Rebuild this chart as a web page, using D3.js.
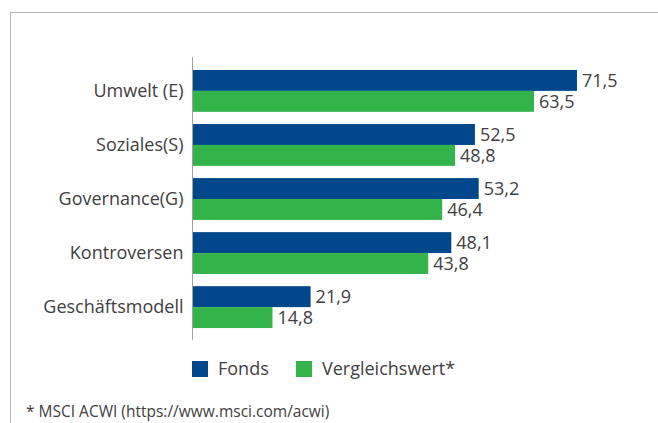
<!DOCTYPE html>
<html>

<head>
  <meta charset='utf-8'>
  <script type="text/javascript" src="https://cdn.jsdelivr.net/npm/d3@7/dist/d3.min.js"></script>
  <style>
    body { margin: 0; background: #fff; }
    text { font-family: "Open Sans", sans-serif; fill: #404040; }
  </style>
</head>

<body>
</body>
<script>
  let categories = ['Umwelt (E)', 'Soziales(S)', 'Governance(G)', 'Kontroversen', 'Geschäftsmodell']
  let fonds = [71.5, 52.5, 53.2, 48.1, 21.9]
  let vergleich = [63.5, 48.8, 46.4, 43.8, 14.8]
  let seriesNames = ['Fonds', 'Vergleichswert*']
  let colors = ['#01478c', '#33b44a']
  let footnote = '* MSCI ACWI (https://www.msci.com/acwi)'

  let w = 658
  let h = 423
  let axisX = 192
  let fs = 18

  let svg = d3.select('body')
    .append('svg')
    .attr('width', w)
    .attr('height', h)

  // frame
  svg.append('rect')
    .attr('x', 10.5)
    .attr('y', 12.5)
    .attr('width', w)
    .attr('height', h)
    .attr('fill', 'none')
    .attr('stroke', '#b4b4b4')

  let yScale = d3.scaleBand()
    .domain(categories)
    .range([57, 341])
    .paddingInner(0.226)
    .paddingOuter(0.24)

  let ySub = d3.scaleBand()
    .domain([0, 1])
    .range([0, yScale.bandwidth()])

  let xScale = d3.scaleLinear()
    .domain([0, 80])
    .range([axisX + 1, axisX + 1 + 80 * 5.37])

  let rows = categories.map((c, i) => ({ cat: c, vals: [fonds[i], vergleich[i]] }))

  let groups = svg.selectAll('g.grp')
    .data(rows)
    .enter()
    .append('g')
    .attr('class', 'grp')
    .attr('transform', d => 'translate(0,' + yScale(d.cat) + ')')

  groups.selectAll('rect')
    .data(d => d.vals)
    .enter()
    .append('rect')
    .attr('x', xScale(0))
    .attr('y', (d, i) => ySub(i))
    .attr('width', d => xScale(d) - xScale(0))
    .attr('height', ySub.bandwidth())
    .attr('fill', (d, i) => colors[i])

  groups.selectAll('text.val')
    .data(d => d.vals)
    .enter()
    .append('text')
    .attr('class', 'val')
    .attr('x', d => xScale(d) + 5)
    .attr('y', (d, i) => ySub(i) + ySub.bandwidth() / 2)
    .attr('dy', '0.35em')
    .attr('font-size', fs)
    .text(d => d.toFixed(1).replace('.', ','))

  // category axis
  let yAxis = d3.axisLeft(yScale).tickSize(0).tickPadding(9)
  let ax = svg.append('g')
    .attr('transform', 'translate(' + (axisX + 0.5) + ',0)')
    .call(yAxis)
  ax.select('.domain').remove()
  ax.selectAll('text')
    .attr('font-size', fs)
    .attr('font-family', '"Open Sans", sans-serif')
    .attr('fill', '#404040')
  ax.append('line')
    .attr('y1', 57)
    .attr('y2', 340)
    .attr('stroke', '#a0a0a0')

  // legend
  let legX = [192, 296]
  let leg = svg.selectAll('g.leg')
    .data(seriesNames)
    .enter()
    .append('g')
    .attr('class', 'leg')
    .attr('transform', (d, i) => 'translate(' + legX[i] + ',361)')
  leg.append('rect')
    .attr('width', 16)
    .attr('height', 16)
    .attr('fill', (d, i) => colors[i])
  leg.append('text')
    .attr('x', 26)
    .attr('y', 8)
    .attr('dy', '0.35em')
    .attr('font-size', fs)
    .text(d => d)

  svg.append('text')
    .attr('x', 26)
    .attr('y', 417)
    .attr('font-size', 15.5)
    .text(footnote)
</script>

</html>
